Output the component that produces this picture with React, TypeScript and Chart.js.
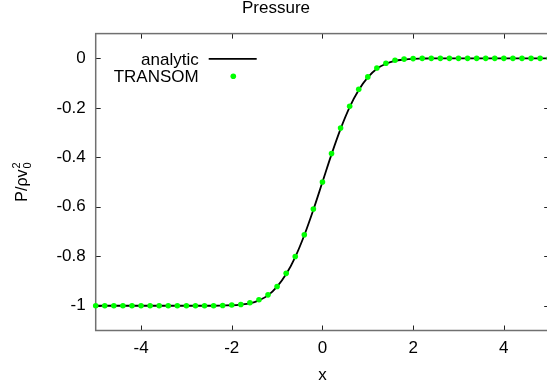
import React, { useEffect, useRef } from "react";
import { Chart, registerables } from "chart.js";

Chart.register(...registerables);

// ---- data ----
const titleText = "Pressure";
const xAxisLabel = "x";
const seriesNames = ["analytic", "TRANSOM"];

const xValues = [
  -5, -4.8, -4.6, -4.4, -4.2, -4, -3.8, -3.6, -3.4, -3.2, -3, -2.8, -2.6, -2.4, -2.2, -2, -1.8,
  -1.6, -1.4, -1.2, -1, -0.8, -0.6, -0.4, -0.2, 0, 0.2, 0.4, 0.6, 0.8, 1, 1.2, 1.4, 1.6, 1.8, 2,
  2.2, 2.4, 2.6, 2.8, 3, 3.2, 3.4, 3.6, 3.8, 4, 4.2, 4.4, 4.6, 4.8, 5,
];

const analyticValues = [
  -1, -1, -1, -1, -1, -1, -1, -1, -1, -1, -1, -1, -1, -1, -0.999, -0.998, -0.995, -0.99, -0.978,
  -0.958, -0.923, -0.872, -0.803, -0.715, -0.612, -0.5, -0.388, -0.285, -0.197, -0.128, -0.077,
  -0.042, -0.022, -0.01, -0.005, -0.002, -0.001, 0, 0, 0, 0, 0, 0, 0, 0, 0, 0, 0, 0, 0, 0,
];

const transomValues = [
  -1, -1, -1, -1, -1, -1, -1, -1, -1, -1, -1, -1, -1, -1, -0.999, -0.997, -0.995, -0.988, -0.976,
  -0.956, -0.922, -0.869, -0.801, -0.713, -0.609, -0.5, -0.385, -0.282, -0.194, -0.125, -0.075,
  -0.039, -0.02, -0.008, -0.003, -0.001, 0, 0, 0, 0, 0, 0, 0, 0, 0, 0, 0, 0, 0, 0, 0,
];

const xTicks = [-4, -2, 0, 2, 4];
const yTicks = [-1, -0.8, -0.6, -0.4, -0.2, 0];

const FONT = '"Liberation Sans", Arial, Helvetica, sans-serif';

const frameAndLabels = {
  id: "gnuplotFrame",
  beforeDatasetsDraw(chart: any) {
    const { ctx, chartArea } = chart;
    const { left, right, top, bottom } = chartArea;
    const xs = chart.scales.x;
    const ys = chart.scales.y;
    ctx.save();
    // ticks (inward, all four sides)
    ctx.strokeStyle = "#222";
    ctx.lineWidth = 1;
    const tl = 5;
    ctx.beginPath();
    xTicks.forEach((v) => {
      const px = Math.round(xs.getPixelForValue(v)) + 0.5;
      ctx.moveTo(px, bottom);
      ctx.lineTo(px, bottom - tl);
      ctx.moveTo(px, top);
      ctx.lineTo(px, top + tl);
    });
    yTicks.forEach((v) => {
      const py = Math.round(ys.getPixelForValue(v)) + 0.5;
      ctx.moveTo(left, py);
      ctx.lineTo(left + tl, py);
      ctx.moveTo(right, py);
      ctx.lineTo(right - tl, py);
    });
    ctx.stroke();
    // border
    ctx.strokeStyle = "#707070";
    ctx.lineWidth = 1.5;
    ctx.strokeRect(left, top, right - left, bottom - top);
    ctx.restore();
  },
  afterDraw(chart: any) {
    const { ctx, chartArea } = chart;
    const { left, top, bottom } = chartArea;
    ctx.save();
    // legend (gnuplot style: text right-aligned, sample to the right)
    ctx.font = `17px ${FONT}`;
    ctx.fillStyle = "#000";
    ctx.textAlign = "right";
    ctx.textBaseline = "alphabetic";
    const tx = left + 103;
    const row1 = top + 25.2;
    const row2 = top + 42.6;
    ctx.fillText(seriesNames[0], tx, row1 + 6.2);
    ctx.fillText(seriesNames[1], tx, row2 + 6.2);
    ctx.strokeStyle = "#000";
    ctx.lineWidth = 1.8;
    ctx.beginPath();
    ctx.moveTo(left + 113, row1);
    ctx.lineTo(left + 161, row1);
    ctx.stroke();
    ctx.fillStyle = "#00ff00";
    ctx.beginPath();
    ctx.arc(left + 137.6, row2, 2.8, 0, Math.PI * 2);
    ctx.fill();

    // y-axis label P/ρv₀² (rotated, with stacked sub/superscript)
    const cy = (top + bottom) / 2;
    ctx.translate(26.5, cy);
    ctx.rotate(-Math.PI / 2);
    ctx.fillStyle = "#000";
    ctx.textAlign = "left";
    ctx.font = `16px ${FONT}`;
    const main = "P/\u03c1v";
    const mainW = ctx.measureText(main).width;
    ctx.font = `11px ${FONT}`;
    const subW = Math.max(ctx.measureText("0").width, ctx.measureText("2").width);
    const start = -(mainW + subW + 1) / 2;
    ctx.font = `16px ${FONT}`;
    ctx.fillText(main, start, 0);
    ctx.font = `11px ${FONT}`;
    ctx.fillText("2", start + mainW + 1, -7);
    ctx.fillText("0", start + mainW + 1, 4);
    ctx.restore();
  },
};

export default function App() {
  const canvasRef = useRef<HTMLCanvasElement | null>(null);

  useEffect(() => {
    document.body.style.margin = "0";
    document.body.style.overflow = "hidden";
    Chart.defaults.font.family = FONT;
    const canvas = canvasRef.current;
    if (!canvas) return;
    const chart = new Chart(canvas, {
      type: "scatter",
      data: {
        datasets: [
          {
            label: seriesNames[0],
            data: xValues.map((x, i) => ({ x, y: analyticValues[i] })),
            showLine: true,
            borderColor: "#000000",
            backgroundColor: "#000000",
            borderWidth: 1.8,
            pointRadius: 0,
            cubicInterpolationMode: "monotone",
            order: 2,
          },
          {
            label: seriesNames[1],
            data: xValues.map((x, i) => ({ x, y: transomValues[i] })),
            showLine: false,
            pointRadius: 2.8,
            pointHoverRadius: 2.8,
            pointBackgroundColor: "#00ff00",
            pointBorderWidth: 0,
            pointBorderColor: "#00ff00",
            clip: false,
            order: 1,
          },
        ],
      },
      options: {
        animation: false,
        responsive: false,
        devicePixelRatio: 1,
        layout: { padding: 0 },
        plugins: {
          legend: { display: false },
          tooltip: { enabled: false },
          title: {
            display: true,
            text: titleText,
            color: "#000",
            font: { size: 17, weight: "normal", lineHeight: 0.8, family: FONT },
            padding: { top: 2, bottom: 18 },
          },
        },
        scales: {
          x: {
            type: "linear",
            min: -5,
            max: 5,
            afterBuildTicks: (s: any) => {
              s.ticks = xTicks.map((v) => ({ value: v }));
            },
            afterFit: (s: any) => {
              s.height = 58.5;
            },
            grid: { display: false, drawTicks: false },
            border: { display: false },
            ticks: {
              color: "#000",
              font: { size: 17 },
              padding: 8,
              maxRotation: 0,
              autoSkip: false,
              callback: (v: any) => `${v}`,
            },
            title: {
              display: true,
              text: xAxisLabel,
              color: "#000",
              font: { size: 17 },
              padding: { top: 0, bottom: 3 },
            },
          },
          y: {
            type: "linear",
            min: -1.1,
            max: 0.1,
            afterBuildTicks: (s: any) => {
              s.ticks = yTicks.map((v) => ({ value: v }));
            },
            afterFit: (s: any) => {
              s.width = 95.7;
            },
            grid: { display: false, drawTicks: false },
            border: { display: false },
            ticks: {
              color: "#000",
              font: { size: 17 },
              padding: 10,
              autoSkip: false,
              callback: (v: any) => `${v}`,
            },
          },
        },
      },
      plugins: [frameAndLabels],
    });
    return () => chart.destroy();
  }, []);

  return (
    <div style={{ position: "fixed", left: 0, top: 0, width: 547, height: 389, overflow: "hidden", background: "#fff" }}>
      <canvas ref={canvasRef} width={552} height={389} style={{ display: "block" }} />
    </div>
  );
}
